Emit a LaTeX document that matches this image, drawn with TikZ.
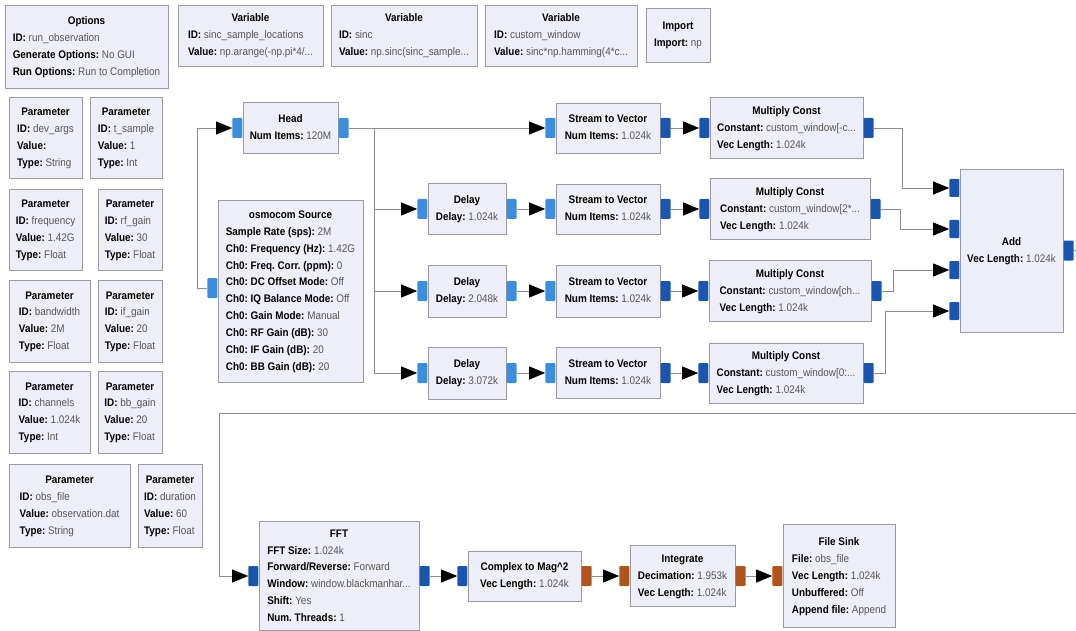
\documentclass[tikz,border=0pt]{standalone}
\usepackage{fontspec}
\setmainfont{Liberation Sans}[FakeStretch=0.9]
\usetikzlibrary{positioning, arrows.meta}

\definecolor{blkfill}{HTML}{EEEEF9}
\definecolor{blkline}{HTML}{9A9AA2}
\definecolor{cplx}{HTML}{3C8EDC}
\definecolor{cvec}{HTML}{1A55AE}
\definecolor{fvec}{HTML}{B0541E}
\definecolor{wirec}{HTML}{8C8C8C}
\definecolor{valtext}{HTML}{555555}

\newcommand{\kv}[2]{\textbf{#1:} {\color{valtext}#2}}
\newcommand{\blk}[2]{\begin{tabular}{@{}l@{}}\multicolumn{1}{@{}c@{}}{\textbf{#1}}\\#2\end{tabular}}
\renewcommand{\arraystretch}{1.3}
\frenchspacing

\tikzset{
  blk/.style={draw=blkline, fill=blkfill, line width=0.8pt, inner sep=0pt,
    font=\fontsize{11}{13}\selectfont},
  portbox/.style={minimum width=10pt, minimum height=20pt, inner sep=0pt, rounded corners=1pt},
  cport/.style={portbox, fill=cplx},
  vport/.style={portbox, fill=cvec},
  fport/.style={portbox, fill=fvec},
  wire/.style={draw=wirec, line width=0.7pt, -{Triangle[length=16pt, width=13pt, color=black]}}
}

\begin{document}
\begin{tikzpicture}[x=1pt, y=-1pt, node distance=0pt]
\useasboundingbox (0,0) rectangle (1076,631);

% options, variables, import
\node[blk, minimum width=163pt, minimum height=83pt] (opts) at (86.5,46.5)
  {\blk{Options}{\kv{ID}{run\_observation}\\ \kv{Generate Options}{No GUI}\\ \kv{Run Options}{Run to Completion}}};
\node[blk, minimum width=145pt, minimum height=61pt] (var1) at (250.5,35.5)
  {\blk{Variable}{\kv{ID}{sinc\_sample\_locations}\\ \kv{Value}{np.arange(-np.pi*4/...}}};
\node[blk, minimum width=146pt, minimum height=61pt] (var2) at (404,35.5)
  {\blk{Variable}{\kv{ID}{sinc}\\ \kv{Value}{np.sinc(sinc\_sample...}}};
\node[blk, minimum width=152pt, minimum height=61pt] (var3) at (561,35.5)
  {\blk{Variable}{\kv{ID}{custom\_window}\\ \kv{Value}{sinc*np.hamming(4*c...}}};
\node[blk, minimum width=64pt, minimum height=54pt] (imp) at (678,35)
  {\blk{Import}{\kv{Import}{np}}};

% parameters
\node[blk, minimum width=73pt, minimum height=81pt] (p1) at (45.5,137.5)
  {\blk{Parameter}{\kv{ID}{dev\_args}\\ \kv{Value}{}\\ \kv{Type}{String}}};
\node[blk, minimum width=72pt, minimum height=81pt] (p2) at (126,137.5)
  {\blk{Parameter}{\kv{ID}{t\_sample}\\ \kv{Value}{1}\\ \kv{Type}{Int}}};
\node[blk, minimum width=73pt, minimum height=81pt] (p3) at (45.5,229.5)
  {\blk{Parameter}{\kv{ID}{frequency}\\ \kv{Value}{1.42G}\\ \kv{Type}{Float}}};
\node[blk, minimum width=64pt, minimum height=81pt] (p4) at (130,229.5)
  {\blk{Parameter}{\kv{ID}{rf\_gain}\\ \kv{Value}{30}\\ \kv{Type}{Float}}};
\node[blk, minimum width=81pt, minimum height=82pt] (p5) at (49.5,321)
  {\blk{Parameter}{\kv{ID}{bandwidth}\\ \kv{Value}{2M}\\ \kv{Type}{Float}}};
\node[blk, minimum width=64pt, minimum height=82pt] (p6) at (130,321)
  {\blk{Parameter}{\kv{ID}{if\_gain}\\ \kv{Value}{20}\\ \kv{Type}{Float}}};
\node[blk, minimum width=81pt, minimum height=82pt] (p7) at (49.5,412)
  {\blk{Parameter}{\kv{ID}{channels}\\ \kv{Value}{1.024k}\\ \kv{Type}{Int}}};
\node[blk, minimum width=64pt, minimum height=82pt] (p8) at (130,412)
  {\blk{Parameter}{\kv{ID}{bb\_gain}\\ \kv{Value}{20}\\ \kv{Type}{Float}}};
\node[blk, minimum width=121pt, minimum height=83pt] (p9) at (69.5,505.5)
  {\blk{Parameter}{\kv{ID}{obs\_file}\\ \kv{Value}{observation.dat}\\ \kv{Type}{String}}};
\node[blk, minimum width=64pt, minimum height=83pt] (p10) at (170,505.5)
  {\blk{Parameter}{\kv{ID}{duration}\\ \kv{Value}{60}\\ \kv{Type}{Float}}};

% source and head
\node[blk, minimum width=95pt, minimum height=51pt] (head) at (290.5,128)
  {\blk{Head}{\kv{Num Items}{120M}}};
\node[blk, minimum width=145pt, minimum height=182pt] (osmo) at (290.5,291)
  {\blk{osmocom Source}{\kv{Sample Rate (sps)}{2M}\\ \kv{Ch0: Frequency (Hz)}{1.42G}\\
   \kv{Ch0: Freq. Corr. (ppm)}{0}\\ \kv{Ch0: DC Offset Mode}{Off}\\ \kv{Ch0: IQ Balance Mode}{Off}\\
   \kv{Ch0: Gain Mode}{Manual}\\ \kv{Ch0: RF Gain (dB)}{30}\\ \kv{Ch0: IF Gain (dB)}{20}\\
   \kv{Ch0: BB Gain (dB)}{20}}};

% delays
\node[blk, minimum width=78pt, minimum height=51pt] (dl1) at (467,209) {\blk{Delay}{\kv{Delay}{1.024k}}};
\node[blk, minimum width=78pt, minimum height=52pt] (dl2) at (467,291) {\blk{Delay}{\kv{Delay}{2.048k}}};
\node[blk, minimum width=78pt, minimum height=52pt] (dl3) at (467,373) {\blk{Delay}{\kv{Delay}{3.072k}}};

% stream to vector
\node[blk, minimum width=104pt, minimum height=50pt] (s2v1) at (608,128) {\blk{Stream to Vector}{\kv{Num Items}{1.024k}}};
\node[blk, minimum width=104pt, minimum height=50pt] (s2v2) at (608,209) {\blk{Stream to Vector}{\kv{Num Items}{1.024k}}};
\node[blk, minimum width=104pt, minimum height=52pt] (s2v3) at (608,291) {\blk{Stream to Vector}{\kv{Num Items}{1.024k}}};
\node[blk, minimum width=104pt, minimum height=51pt] (s2v4) at (608,373) {\blk{Stream to Vector}{\kv{Num Items}{1.024k}}};

% multiply const
\node[blk, minimum width=153pt, minimum height=61pt] (mc1) at (786.5,128)
  {\blk{Multiply Const}{\kv{Constant}{custom\_window[-c...}\\ \kv{Vec Length}{1.024k}}};
\node[blk, minimum width=160pt, minimum height=61pt] (mc2) at (790,209)
  {\blk{Multiply Const}{\kv{Constant}{custom\_window[2*...}\\ \kv{Vec Length}{1.024k}}};
\node[blk, minimum width=162pt, minimum height=61pt] (mc3) at (790,291)
  {\blk{Multiply Const}{\kv{Constant}{custom\_window[ch...}\\ \kv{Vec Length}{1.024k}}};
\node[blk, minimum width=154pt, minimum height=60pt] (mc4) at (786,373)
  {\blk{Multiply Const}{\kv{Constant}{custom\_window[0:...}\\ \kv{Vec Length}{1.024k}}};

\node[blk, minimum width=103pt, minimum height=163pt] (add) at (1011.5,250.5)
  {\blk{Add}{\kv{Vec Length}{1.024k}}};

% bottom chain
\node[blk, minimum width=160pt, minimum height=109pt] (fft) at (339,576)
  {\blk{FFT}{\kv{FFT Size}{1.024k}\\ \kv{Forward/Reverse}{Forward}\\ \kv{Window}{window.blackmanhar...}\\
   \kv{Shift}{Yes}\\ \kv{Num. Threads}{1}}};
\node[blk, minimum width=113pt, minimum height=50pt] (mag) at (524.5,576)
  {\blk{Complex to Mag\textasciicircum 2}{\kv{Vec Length}{1.024k}}};
\node[blk, minimum width=105pt, minimum height=61pt] (integ) at (682.5,576)
  {\blk{Integrate}{\kv{Decimation}{1.953k}\\ \kv{Vec Length}{1.024k}}};
\node[blk, minimum width=112pt, minimum height=103pt] (sink) at (839,576)
  {\blk{File Sink}{\kv{File}{obs\_file}\\ \kv{Vec Length}{1.024k}\\ \kv{Unbuffered}{Off}\\ \kv{Append file}{Append}}};

% ports
\node[cport, left=of head] (head-in) {};
\node[cport, right=of head] (head-out) {};
\node[cport, left=of osmo, yshift=3pt] (osmo-out) {};
\node[cport, left=of dl1] (dl1-in) {};
\node[cport, right=of dl1] (dl1-out) {};
\node[cport, left=of dl2] (dl2-in) {};
\node[cport, right=of dl2] (dl2-out) {};
\node[cport, left=of dl3] (dl3-in) {};
\node[cport, right=of dl3] (dl3-out) {};
\node[cport, left=of s2v1] (s2v1-in) {};
\node[vport, right=of s2v1] (s2v1-out) {};
\node[cport, left=of s2v2] (s2v2-in) {};
\node[vport, right=of s2v2] (s2v2-out) {};
\node[cport, left=of s2v3] (s2v3-in) {};
\node[vport, right=of s2v3] (s2v3-out) {};
\node[cport, left=of s2v4] (s2v4-in) {};
\node[vport, right=of s2v4] (s2v4-out) {};
\node[vport, left=of mc1] (mc1-in) {};
\node[vport, right=of mc1] (mc1-out) {};
\node[vport, left=of mc2] (mc2-in) {};
\node[vport, right=of mc2] (mc2-out) {};
\node[vport, left=of mc3] (mc3-in) {};
\node[vport, right=of mc3] (mc3-out) {};
\node[vport, left=of mc4] (mc4-in) {};
\node[vport, right=of mc4] (mc4-out) {};
\node[vport, left=of add, yshift=62.5pt, minimum height=18pt] (add-in1) {};
\node[vport, left=of add, yshift=21.5pt, minimum height=18pt] (add-in2) {};
\node[vport, left=of add, yshift=-19.5pt, minimum height=18pt] (add-in3) {};
\node[vport, left=of add, yshift=-60.5pt, minimum height=18pt] (add-in4) {};
\node[vport, right=of add] (add-out) {};
\node[vport, left=of fft] (fft-in) {};
\node[vport, right=of fft] (fft-out) {};
\node[vport, left=of mag] (mag-in) {};
\node[fport, right=of mag] (mag-out) {};
\node[fport, left=of integ] (integ-in) {};
\node[fport, right=of integ] (integ-out) {};
\node[fport, left=of sink] (sink-in) {};

% connections
\coordinate (fb) at (197,128);
\coordinate (split) at (374,128);
\coordinate (loop-r) at (1090,413);
\coordinate (loop-l) at (219,413);

\draw[wire] (osmo-out.west) -| (fb) |- (head-in.west);
\draw[wire] (head-out.east) -- (s2v1-in.west);
\draw[wire] (split) |- (dl1-in.west);
\draw[wire] (split) |- (dl2-in.west);
\draw[wire] (split) |- (dl3-in.west);
\draw[wire] (dl1-out.east) -- (s2v2-in.west);
\draw[wire] (dl2-out.east) -- (s2v3-in.west);
\draw[wire] (dl3-out.east) -- (s2v4-in.west);
\draw[wire] (s2v1-out.east) -- (mc1-in.west);
\draw[wire] (s2v2-out.east) -- (mc2-in.west);
\draw[wire] (s2v3-out.east) -- (mc3-in.west);
\draw[wire] (s2v4-out.east) -- (mc4-in.west);
\draw[wire] (mc1-out.east) -- ++(29,0) |- (add-in1.west);
\draw[wire] (mc2-out.east) -- ++(20,0) |- (add-in2.west);
\draw[wire] (mc3-out.east) -- ++(12,0) |- (add-in3.west);
\draw[wire] (mc4-out.east) -- ++(12,0) |- (add-in4.west);
\draw[wire] (add-out.east) -| (loop-r) -- (loop-l) |- (fft-in.west);
\draw[wire] (fft-out.east) -- (mag-in.west);
\draw[wire] (mag-out.east) -- (integ-in.west);
\draw[wire] (integ-out.east) -- (sink-in.west);
\end{tikzpicture}
\end{document}
